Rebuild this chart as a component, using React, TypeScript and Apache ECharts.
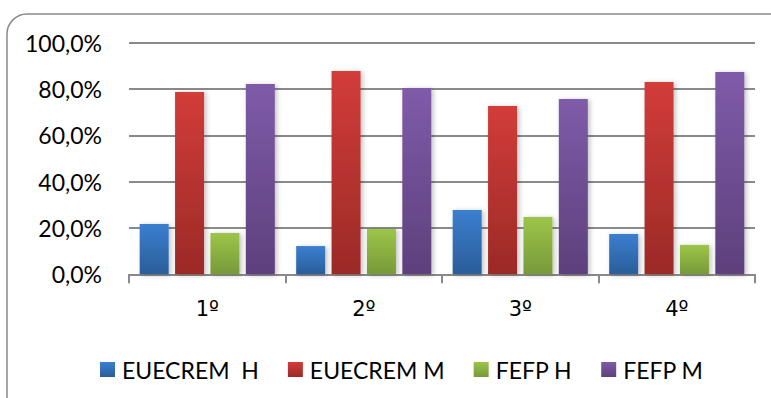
import React, { useEffect, useRef } from "react";
import * as echarts from "echarts";

// Courses on the category axis
const courses = ["1º", "2º", "3º", "4º"];

// Percentages per course for each group
const euecremH = [21.7, 12.2, 27.8, 17.4];
const euecremM = [78.7, 87.8, 72.7, 83.0];
const fefpH = [17.8, 19.6, 24.7, 12.7];
const fefpM = [82.2, 80.4, 75.7, 87.3];

const seriesNames = ["EUECREM  H", "EUECREM M", "FEFP H", "FEFP M"];

const FONT = "Lato, 'Open Sans', sans-serif";
// the ordinal sign needs a font that draws it underlined
const ORDINAL_FONT = "'DejaVu Sans', sans-serif";

const grad = (top: string, bottom: string) =>
  new echarts.graphic.LinearGradient(0, 0, 0, 1, [
    { offset: 0, color: top },
    { offset: 1, color: bottom },
  ]);

const palette: [string, string][] = [
  ["#3b7fd0", "#2a5d99"],
  ["#d23c39", "#9b2a27"],
  ["#9dc548", "#77993a"],
  ["#7f5ba9", "#5d407c"],
];

export default function App() {
  const ref = useRef<HTMLDivElement>(null);

  useEffect(() => {
    if (!ref.current) return;
    const chart = echarts.init(ref.current, undefined, { renderer: "svg" });
    const values = [euecremH, euecremM, fefpH, fefpM];

    chart.setOption({
      animation: false,
      backgroundColor: "#ffffff",
      textStyle: { fontFamily: FONT },
      graphic: [
        {
          type: "rect",
          shape: { x: 7, y: 14, width: 800, height: 420, r: 20 },
          style: { fill: "none", stroke: "#8a8a8a", lineWidth: 1.5 },
          silent: true,
        },
      ],
      grid: { left: 129, right: 16, top: 42.7, bottom: 123.7, containLabel: false },
      legend: {
        left: 100,
        top: 358,
        padding: 0,
        itemWidth: 15,
        itemHeight: 15,
        itemGap: 29,
        icon: "rect",
        textStyle: { fontFamily: FONT, fontSize: 23, color: "#000", padding: [0, 0, 0, 2] },
        data: seriesNames,
      },
      xAxis: {
        type: "category",
        data: courses,
        axisLine: { lineStyle: { color: "#8a8a8a", width: 2 } },
        axisTick: { show: true, length: 9, lineStyle: { color: "#8a8a8a", width: 2 } },
        axisLabel: { fontFamily: ORDINAL_FONT, fontSize: 21, color: "#000", margin: 24 },
      },
      yAxis: {
        type: "value",
        min: 0,
        max: 100,
        interval: 20,
        axisLine: { show: false },
        axisTick: { show: false },
        splitLine: { lineStyle: { color: "#8a8a8a", width: 2 } },
        axisLabel: {
          fontFamily: FONT,
          fontSize: 23,
          color: "#000",
          margin: 27,
          formatter: (v: number) => v.toFixed(1).replace(".", ",") + "%",
        },
      },
      series: seriesNames.map((name, i) => ({
        name,
        type: "bar",
        data: values[i],
        barWidth: 29,
        barGap: "22%",
        itemStyle: {
          color: grad(palette[i][0], palette[i][1]),
          shadowBlur: 5,
          shadowColor: "rgba(0,0,0,0.25)",
          shadowOffsetX: 2,
          shadowOffsetY: 1,
        },
      })),
    });

    return () => chart.dispose();
  }, []);

  return (
    <div
      ref={ref}
      style={{ position: "fixed", left: 0, top: 0, width: 771, height: 398 }}
    />
  );
}
